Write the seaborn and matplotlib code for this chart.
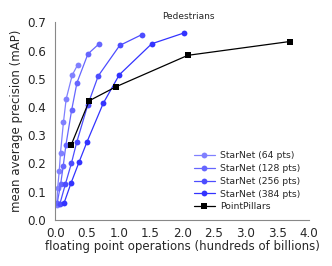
import pandas as pd
import matplotlib
matplotlib.use('Agg')
import matplotlib.pyplot as plt
from matplotlib.ticker import MultipleLocator
import seaborn as sns

# flops (hundreds of billions) and mAP
sn64_flops = [0.02, 0.035, 0.06, 0.08, 0.126, 0.17, 0.265, 0.35]
sn64_map = [0.052, 0.113, 0.173, 0.238, 0.345, 0.429, 0.513, 0.549]
sn128_flops = [0.028, 0.082, 0.123, 0.166, 0.256, 0.34, 0.513, 0.69]
sn128_map = [0.059, 0.126, 0.191, 0.266, 0.389, 0.486, 0.588, 0.624]
sn256_flops = [0.071, 0.158, 0.253, 0.335, 0.51, 0.676, 1.014, 1.36]
sn256_map = [0.057, 0.127, 0.201, 0.274, 0.407, 0.51, 0.618, 0.656]
sn384_flops = [0.134, 0.248, 0.374, 0.50, 0.755, 1.008, 1.52, 2.025]
sn384_map = [0.058, 0.131, 0.205, 0.277, 0.413, 0.514, 0.624, 0.662]
pp_flops = [0.25, 0.534, 0.96, 2.09, 3.70]
pp_map = [0.266, 0.422, 0.472, 0.583, 0.632]

series = [
    ('StarNet (64 pts)', sn64_flops, sn64_map, '#8080ff', 'o', 4.2),
    ('StarNet (128 pts)', sn128_flops, sn128_map, '#6666ff', 'o', 4.2),
    ('StarNet (256 pts)', sn256_flops, sn256_map, '#4d4dff', 'o', 4.2),
    ('StarNet (384 pts)', sn384_flops, sn384_map, '#3333ff', 'o', 4.2),
    ('PointPillars', pp_flops, pp_map, 'black', 's', 3.8),
]

sns.set_style('white')
plt.rcParams['font.family'] = ['DejaVu Sans']

fig = plt.figure(figsize=(3.32, 2.66), dpi=100)
ax = fig.add_axes([0.167, 0.174, 0.763, 0.742])

for name, xs, ys, col, mk, ms in series:
    df = pd.DataFrame({'flops': xs, 'map': ys})
    sns.lineplot(data=df, x='flops', y='map', ax=ax, sort=False, estimator=None,
                 color=col, marker=mk, markersize=ms, markeredgewidth=0,
                 linewidth=0.9, label=name)

ax.set_xlim(0, 4.0)
ax.set_ylim(0, 0.7)
ax.xaxis.set_major_locator(MultipleLocator(0.5))
ax.yaxis.set_major_locator(MultipleLocator(0.1))
ax.yaxis.set_minor_locator(MultipleLocator(0.05))
ax.tick_params(direction='in', which='both', length=3, width=0.7,
               color='#888888', labelsize=8.6)
ax.tick_params(axis='y', pad=7)
ax.tick_params(axis='x', pad=5)
ax.tick_params(which='minor', length=2)
for s in ['top', 'right']:
    ax.spines[s].set_visible(False)
for s in ['left', 'bottom']:
    ax.spines[s].set_color('#888888')
    ax.spines[s].set_linewidth(0.8)

ax.set_xlabel('floating point operations (hundreds of billions)', fontsize=8.5, labelpad=0)
ax.set_ylabel('mean average precision (mAP)', fontsize=8.5, labelpad=3)
ax.text(0.525, 1.005, 'Pedestrians', transform=ax.transAxes, ha='center',
        va='bottom', fontsize=6.5)

ax.legend(loc='lower right', bbox_to_anchor=(1.0, 0.0), frameon=False,
          fontsize=6.7, handlelength=2.2, handletextpad=0.6, labelspacing=0.4)

fig.savefig('out.png', dpi=100, facecolor='white')
